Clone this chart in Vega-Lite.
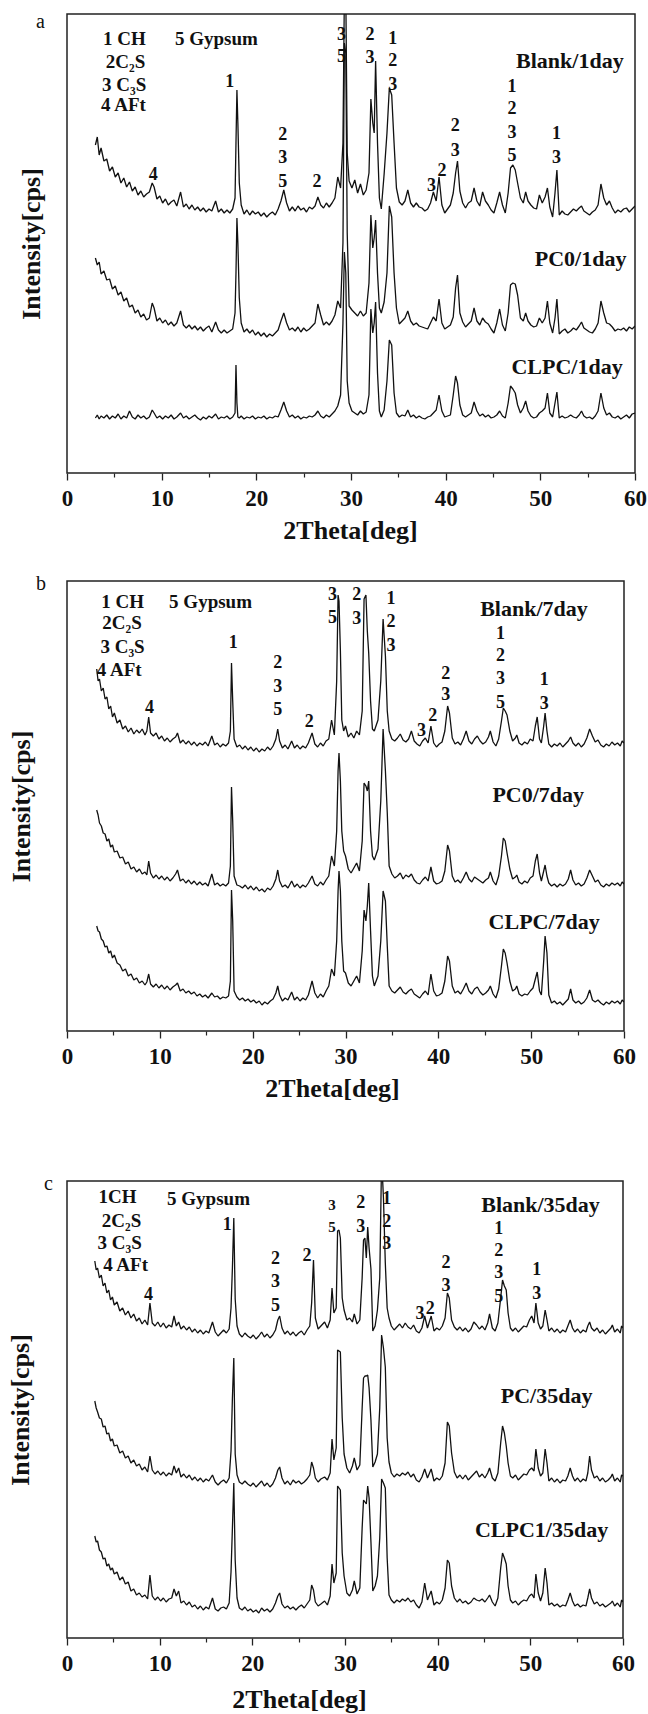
{
"$schema": "https://vega.github.io/schema/vega-lite/v6.json",
"padding": {"left": 6, "top": 11, "right": 4, "bottom": 0},
"spacing": 29,
"datasets": {
"a": [
{"x":3.0,"B":328,"P":215,"C":55},{"x":3.2,"B":336,"P":208,"C":58},{"x":3.4,"B":318,"P":211,"C":54},{"x":3.6,"B":325,"P":199,"C":57},{"x":3.9,"B":312,"P":202,"C":55},{"x":4.2,"B":314,"P":193,"C":58},{"x":4.5,"B":302,"P":194,"C":54},{"x":4.8,"B":306,"P":184,"C":57},{"x":5.1,"B":296,"P":187,"C":55},{"x":5.4,"B":300,"P":178,"C":59},{"x":5.7,"B":290,"P":181,"C":54},{"x":6.0,"B":295,"P":172,"C":57},{"x":6.3,"B":286,"P":175,"C":55},{"x":6.6,"B":291,"P":166,"C":62},{"x":6.9,"B":282,"P":168,"C":56},{"x":7.2,"B":286,"P":160,"C":54},{"x":7.5,"B":278,"P":163,"C":58},{"x":7.8,"B":282,"P":156,"C":55},{"x":8.1,"B":276,"P":159,"C":57},{"x":8.4,"B":279,"P":153,"C":54},{"x":8.7,"B":281,"P":155,"C":56},{"x":9.0,"B":290,"P":170,"C":63},{"x":9.2,"B":286,"P":165,"C":60},{"x":9.5,"B":274,"P":152,"C":55},{"x":9.8,"B":277,"P":155,"C":57},{"x":10.1,"B":270,"P":150,"C":54},{"x":10.4,"B":274,"P":153,"C":57},{"x":10.7,"B":268,"P":148,"C":55},{"x":11.0,"B":271,"P":151,"C":58},{"x":11.3,"B":273,"P":147,"C":54},{"x":11.6,"B":267,"P":150,"C":56},{"x":12.0,"B":281,"P":162,"C":60},{"x":12.3,"B":266,"P":148,"C":55},{"x":12.6,"B":269,"P":145,"C":57},{"x":12.9,"B":264,"P":148,"C":54},{"x":13.2,"B":268,"P":144,"C":56},{"x":13.5,"B":263,"P":147,"C":58},{"x":13.8,"B":266,"P":143,"C":55},{"x":14.1,"B":262,"P":146,"C":53},{"x":14.4,"B":265,"P":142,"C":56},{"x":14.7,"B":261,"P":145,"C":54},{"x":15.0,"B":264,"P":147,"C":57},{"x":15.3,"B":262,"P":141,"C":55},{"x":15.7,"B":272,"P":151,"C":59},{"x":16.0,"B":261,"P":143,"C":54},{"x":16.3,"B":264,"P":140,"C":56},{"x":16.6,"B":260,"P":143,"C":55},{"x":16.9,"B":263,"P":140,"C":57},{"x":17.2,"B":260,"P":142,"C":54},{"x":17.5,"B":264,"P":144,"C":56},{"x":17.75,"B":275,"P":160,"C":60},{"x":17.85,"B":330,"P":200,"C":108},{"x":17.95,"B":383,"P":255,"C":70},{"x":18.05,"B":350,"P":230,"C":56},{"x":18.2,"B":290,"P":175,"C":55},{"x":18.4,"B":268,"P":150,"C":57},{"x":18.7,"B":259,"P":141,"C":54},{"x":19.0,"B":263,"P":144,"C":56},{"x":19.3,"B":258,"P":140,"C":55},{"x":19.6,"B":262,"P":143,"C":57},{"x":19.9,"B":259,"P":138,"C":54},{"x":20.2,"B":261,"P":141,"C":56},{"x":20.5,"B":257,"P":137,"C":55},{"x":20.8,"B":260,"P":140,"C":57},{"x":21.1,"B":256,"P":136,"C":54},{"x":21.4,"B":259,"P":139,"C":56},{"x":21.7,"B":261,"P":137,"C":55},{"x":22.0,"B":258,"P":140,"C":57},{"x":22.3,"B":264,"P":143,"C":56},{"x":22.6,"B":272,"P":152,"C":63},{"x":22.9,"B":283,"P":160,"C":71},{"x":23.2,"B":270,"P":150,"C":62},{"x":23.5,"B":262,"P":143,"C":56},{"x":23.8,"B":266,"P":145,"C":58},{"x":24.1,"B":262,"P":142,"C":55},{"x":24.4,"B":267,"P":146,"C":57},{"x":24.7,"B":263,"P":141,"C":54},{"x":25.0,"B":265,"P":145,"C":56},{"x":25.3,"B":261,"P":142,"C":55},{"x":25.6,"B":266,"P":144,"C":57},{"x":25.9,"B":264,"P":147,"C":56},{"x":26.2,"B":267,"P":150,"C":58},{"x":26.5,"B":276,"P":169,"C":62},{"x":26.8,"B":268,"P":158,"C":57},{"x":27.1,"B":265,"P":148,"C":55},{"x":27.4,"B":270,"P":151,"C":58},{"x":27.7,"B":266,"P":148,"C":56},{"x":28.0,"B":270,"P":152,"C":59},{"x":28.3,"B":275,"P":158,"C":62},{"x":28.6,"B":296,"P":172,"C":67},{"x":28.9,"B":285,"P":165,"C":78},{"x":29.15,"B":330,"P":230,"C":150},{"x":29.3,"B":480,"P":430,"C":221},{"x":29.45,"B":480,"P":420,"C":200},{"x":29.6,"B":320,"P":240,"C":92},{"x":29.8,"B":292,"P":167,"C":70},{"x":30.1,"B":285,"P":163,"C":62},{"x":30.4,"B":293,"P":160,"C":60},{"x":30.7,"B":280,"P":157,"C":58},{"x":31.0,"B":289,"P":162,"C":62},{"x":31.3,"B":278,"P":157,"C":59},{"x":31.6,"B":283,"P":160,"C":61},{"x":31.9,"B":300,"P":190,"C":78},{"x":32.1,"B":374,"P":258,"C":164},{"x":32.3,"B":350,"P":225,"C":140},{"x":32.45,"B":340,"P":235,"C":150},{"x":32.6,"B":412,"P":253,"C":171},{"x":32.8,"B":330,"P":200,"C":100},{"x":33.0,"B":275,"P":165,"C":62},{"x":33.2,"B":264,"P":160,"C":56},{"x":33.5,"B":299,"P":171,"C":63},{"x":33.8,"B":340,"P":200,"C":92},{"x":34.05,"B":385,"P":267,"C":133},{"x":34.3,"B":378,"P":256,"C":128},{"x":34.55,"B":330,"P":200,"C":80},{"x":34.8,"B":285,"P":165,"C":60},{"x":35.1,"B":271,"P":149,"C":56},{"x":35.4,"B":268,"P":152,"C":58},{"x":35.7,"B":272,"P":155,"C":57},{"x":36.0,"B":283,"P":162,"C":63},{"x":36.3,"B":270,"P":152,"C":56},{"x":36.6,"B":266,"P":148,"C":58},{"x":36.9,"B":270,"P":150,"C":55},{"x":37.2,"B":266,"P":147,"C":57},{"x":37.5,"B":265,"P":146,"C":55},{"x":37.8,"B":262,"P":145,"C":54},{"x":38.1,"B":264,"P":144,"C":56},{"x":38.4,"B":270,"P":150,"C":57},{"x":38.7,"B":281,"P":156,"C":60},{"x":39.0,"B":272,"P":152,"C":63},{"x":39.3,"B":296,"P":174,"C":78},{"x":39.6,"B":268,"P":150,"C":62},{"x":39.9,"B":260,"P":144,"C":56},{"x":40.2,"B":264,"P":146,"C":57},{"x":40.5,"B":268,"P":148,"C":58},{"x":40.8,"B":280,"P":156,"C":78},{"x":41.05,"B":300,"P":185,"C":97},{"x":41.25,"B":312,"P":198,"C":90},{"x":41.5,"B":282,"P":160,"C":68},{"x":41.8,"B":270,"P":151,"C":58},{"x":42.1,"B":265,"P":146,"C":56},{"x":42.4,"B":270,"P":149,"C":58},{"x":42.7,"B":272,"P":152,"C":60},{"x":43.0,"B":285,"P":165,"C":71},{"x":43.3,"B":272,"P":152,"C":62},{"x":43.6,"B":267,"P":148,"C":57},{"x":43.9,"B":281,"P":155,"C":59},{"x":44.2,"B":272,"P":151,"C":56},{"x":44.5,"B":268,"P":149,"C":58},{"x":44.8,"B":263,"P":144,"C":55},{"x":45.1,"B":260,"P":140,"C":56},{"x":45.4,"B":270,"P":150,"C":58},{"x":45.7,"B":281,"P":164,"C":62},{"x":46.0,"B":268,"P":148,"C":57},{"x":46.3,"B":260,"P":142,"C":55},{"x":46.6,"B":280,"P":160,"C":70},{"x":46.85,"B":305,"P":188,"C":87},{"x":47.1,"B":308,"P":190,"C":84},{"x":47.35,"B":303,"P":189,"C":80},{"x":47.6,"B":290,"P":178,"C":68},{"x":47.9,"B":275,"P":155,"C":60},{"x":48.2,"B":270,"P":152,"C":65},{"x":48.45,"B":281,"P":160,"C":72},{"x":48.7,"B":272,"P":152,"C":62},{"x":49.0,"B":268,"P":148,"C":57},{"x":49.3,"B":265,"P":146,"C":55},{"x":49.6,"B":264,"P":147,"C":56},{"x":49.9,"B":278,"P":155,"C":60},{"x":50.2,"B":270,"P":150,"C":62},{"x":50.5,"B":276,"P":155,"C":65},{"x":50.75,"B":285,"P":172,"C":80},{"x":51.0,"B":266,"P":150,"C":60},{"x":51.3,"B":256,"P":140,"C":56},{"x":51.55,"B":280,"P":155,"C":70},{"x":51.75,"B":303,"P":174,"C":81},{"x":52.0,"B":258,"P":139,"C":55},{"x":52.3,"B":262,"P":142,"C":57},{"x":52.6,"B":259,"P":144,"C":55},{"x":52.9,"B":258,"P":140,"C":56},{"x":53.2,"B":261,"P":142,"C":58},{"x":53.5,"B":264,"P":145,"C":56},{"x":53.8,"B":262,"P":143,"C":55},{"x":54.1,"B":265,"P":147,"C":58},{"x":54.35,"B":267,"P":151,"C":62},{"x":54.6,"B":262,"P":145,"C":57},{"x":54.9,"B":260,"P":143,"C":55},{"x":55.2,"B":258,"P":141,"C":56},{"x":55.5,"B":261,"P":140,"C":54},{"x":55.8,"B":263,"P":144,"C":57},{"x":56.1,"B":268,"P":150,"C":62},{"x":56.4,"B":289,"P":172,"C":80},{"x":56.7,"B":275,"P":160,"C":65},{"x":57.0,"B":268,"P":150,"C":58},{"x":57.3,"B":272,"P":149,"C":60},{"x":57.6,"B":265,"P":146,"C":56},{"x":57.9,"B":260,"P":142,"C":55},{"x":58.2,"B":263,"P":144,"C":57},{"x":58.5,"B":261,"P":143,"C":54},{"x":58.8,"B":264,"P":145,"C":56},{"x":59.1,"B":265,"P":142,"C":58},{"x":59.4,"B":261,"P":146,"C":55},{"x":59.7,"B":264,"P":144,"C":59},{"x":60.0,"B":267,"P":147,"C":60}
],
"b": [
{"x":3.2,"B":362,"P":221,"C":105},{"x":3.35,"B":350,"P":216,"C":100},{"x":3.5,"B":352,"P":208,"C":99},{"x":3.7,"B":340,"P":205,"C":92},{"x":3.9,"B":343,"P":198,"C":90},{"x":4.1,"B":332,"P":197,"C":84},{"x":4.3,"B":334,"P":190,"C":85},{"x":4.5,"B":322,"P":192,"C":78},{"x":4.7,"B":325,"P":184,"C":80},{"x":4.9,"B":314,"P":186,"C":73},{"x":5.1,"B":318,"P":179,"C":76},{"x":5.4,"B":308,"P":180,"C":68},{"x":5.7,"B":311,"P":173,"C":66},{"x":6.0,"B":302,"P":174,"C":60},{"x":6.3,"B":305,"P":167,"C":62},{"x":6.6,"B":299,"P":169,"C":55},{"x":6.9,"B":303,"P":162,"C":57},{"x":7.2,"B":297,"P":164,"C":51},{"x":7.5,"B":301,"P":159,"C":53},{"x":7.8,"B":298,"P":162,"C":48},{"x":8.1,"B":302,"P":157,"C":50},{"x":8.4,"B":296,"P":159,"C":46},{"x":8.6,"B":300,"P":156,"C":49},{"x":8.8,"B":314,"P":170,"C":57},{"x":9.0,"B":298,"P":158,"C":47},{"x":9.3,"B":295,"P":153,"C":44},{"x":9.6,"B":298,"P":156,"C":47},{"x":9.9,"B":292,"P":152,"C":43},{"x":10.2,"B":295,"P":155,"C":46},{"x":10.5,"B":290,"P":151,"C":42},{"x":10.8,"B":293,"P":154,"C":45},{"x":11.1,"B":289,"P":150,"C":41},{"x":11.4,"B":292,"P":153,"C":44},{"x":11.7,"B":294,"P":157,"C":46},{"x":11.9,"B":298,"P":161,"C":48},{"x":12.2,"B":288,"P":150,"C":40},{"x":12.5,"B":291,"P":152,"C":42},{"x":12.8,"B":287,"P":148,"C":38},{"x":13.1,"B":290,"P":151,"C":40},{"x":13.4,"B":286,"P":147,"C":37},{"x":13.7,"B":289,"P":150,"C":39},{"x":14.0,"B":285,"P":146,"C":35},{"x":14.3,"B":288,"P":149,"C":37},{"x":14.6,"B":286,"P":146,"C":34},{"x":14.9,"B":289,"P":148,"C":36},{"x":15.2,"B":285,"P":145,"C":33},{"x":15.6,"B":295,"P":157,"C":38},{"x":15.9,"B":286,"P":146,"C":34},{"x":16.2,"B":288,"P":148,"C":35},{"x":16.5,"B":284,"P":145,"C":32},{"x":16.8,"B":287,"P":147,"C":34},{"x":17.1,"B":285,"P":145,"C":33},{"x":17.4,"B":288,"P":148,"C":35},{"x":17.6,"B":300,"P":165,"C":50},{"x":17.72,"B":368,"P":244,"C":141},{"x":17.85,"B":330,"P":210,"C":110},{"x":18.0,"B":292,"P":155,"C":40},{"x":18.3,"B":284,"P":146,"C":34},{"x":18.6,"B":286,"P":145,"C":31},{"x":18.9,"B":282,"P":143,"C":33},{"x":19.2,"B":285,"P":146,"C":30},{"x":19.5,"B":281,"P":142,"C":32},{"x":19.8,"B":284,"P":145,"C":29},{"x":20.1,"B":280,"P":141,"C":31},{"x":20.4,"B":283,"P":144,"C":28},{"x":20.7,"B":279,"P":140,"C":30},{"x":21.0,"B":282,"P":142,"C":26},{"x":21.3,"B":280,"P":139,"C":29},{"x":21.6,"B":284,"P":143,"C":27},{"x":21.9,"B":281,"P":141,"C":30},{"x":22.2,"B":285,"P":145,"C":32},{"x":22.5,"B":292,"P":152,"C":38},{"x":22.7,"B":302,"P":161,"C":45},{"x":22.9,"B":290,"P":150,"C":36},{"x":23.2,"B":283,"P":144,"C":30},{"x":23.5,"B":286,"P":146,"C":33},{"x":23.8,"B":282,"P":143,"C":31},{"x":24.2,"B":290,"P":150,"C":39},{"x":24.5,"B":283,"P":144,"C":31},{"x":24.8,"B":286,"P":147,"C":34},{"x":25.1,"B":282,"P":143,"C":30},{"x":25.4,"B":285,"P":146,"C":33},{"x":25.7,"B":283,"P":144,"C":31},{"x":26.0,"B":288,"P":148,"C":36},{"x":26.4,"B":298,"P":155,"C":50},{"x":26.7,"B":287,"P":147,"C":38},{"x":27.0,"B":284,"P":145,"C":33},{"x":27.3,"B":288,"P":149,"C":37},{"x":27.6,"B":285,"P":146,"C":34},{"x":27.9,"B":290,"P":151,"C":40},{"x":28.2,"B":292,"P":155,"C":45},{"x":28.5,"B":311,"P":175,"C":62},{"x":28.8,"B":296,"P":165,"C":55},{"x":29.05,"B":350,"P":200,"C":90},{"x":29.2,"B":436,"P":260,"C":140},{"x":29.3,"B":430,"P":278,"C":160},{"x":29.45,"B":380,"P":250,"C":140},{"x":29.6,"B":311,"P":200,"C":90},{"x":29.8,"B":300,"P":180,"C":60},{"x":30.0,"B":305,"P":175,"C":58},{"x":30.3,"B":294,"P":162,"C":48},{"x":30.6,"B":298,"P":158,"C":45},{"x":30.9,"B":293,"P":163,"C":50},{"x":31.2,"B":300,"P":168,"C":55},{"x":31.5,"B":296,"P":160,"C":48},{"x":31.8,"B":320,"P":190,"C":80},{"x":32.0,"B":432,"P":248,"C":121},{"x":32.2,"B":436,"P":245,"C":110},{"x":32.35,"B":400,"P":240,"C":125},{"x":32.5,"B":378,"P":250,"C":148},{"x":32.7,"B":330,"P":200,"C":100},{"x":32.9,"B":302,"P":175,"C":55},{"x":33.1,"B":300,"P":171,"C":45},{"x":33.5,"B":311,"P":182,"C":55},{"x":33.8,"B":350,"P":230,"C":90},{"x":34.05,"B":412,"P":302,"C":140},{"x":34.3,"B":375,"P":260,"C":130},{"x":34.5,"B":320,"P":218,"C":85},{"x":34.7,"B":300,"P":165,"C":45},{"x":35.0,"B":292,"P":157,"C":40},{"x":35.3,"B":290,"P":153,"C":38},{"x":35.6,"B":293,"P":155,"C":41},{"x":35.9,"B":297,"P":158,"C":44},{"x":36.2,"B":291,"P":152,"C":39},{"x":36.5,"B":289,"P":156,"C":37},{"x":36.8,"B":292,"P":154,"C":40},{"x":37.1,"B":300,"P":157,"C":42},{"x":37.4,"B":290,"P":151,"C":37},{"x":37.7,"B":287,"P":148,"C":35},{"x":38.0,"B":285,"P":147,"C":33},{"x":38.3,"B":290,"P":151,"C":37},{"x":38.6,"B":293,"P":154,"C":40},{"x":38.9,"B":288,"P":150,"C":36},{"x":39.2,"B":305,"P":164,"C":57},{"x":39.5,"B":288,"P":150,"C":40},{"x":39.8,"B":284,"P":147,"C":35},{"x":40.1,"B":287,"P":148,"C":36},{"x":40.4,"B":289,"P":150,"C":38},{"x":40.7,"B":300,"P":160,"C":50},{"x":41.0,"B":325,"P":186,"C":75},{"x":41.2,"B":318,"P":180,"C":70},{"x":41.5,"B":293,"P":155,"C":45},{"x":41.8,"B":287,"P":149,"C":38},{"x":42.1,"B":289,"P":151,"C":40},{"x":42.4,"B":286,"P":148,"C":37},{"x":42.7,"B":292,"P":153,"C":42},{"x":43.0,"B":300,"P":159,"C":48},{"x":43.3,"B":290,"P":152,"C":40},{"x":43.6,"B":287,"P":149,"C":37},{"x":43.9,"B":292,"P":154,"C":42},{"x":44.2,"B":295,"P":152,"C":44},{"x":44.5,"B":290,"P":150,"C":39},{"x":44.8,"B":287,"P":148,"C":36},{"x":45.1,"B":289,"P":151,"C":38},{"x":45.4,"B":294,"P":153,"C":41},{"x":45.6,"B":300,"P":159,"C":45},{"x":45.9,"B":289,"P":150,"C":37},{"x":46.2,"B":285,"P":146,"C":33},{"x":46.5,"B":292,"P":155,"C":42},{"x":46.8,"B":310,"P":175,"C":65},{"x":47.0,"B":323,"P":193,"C":82},{"x":47.2,"B":320,"P":190,"C":78},{"x":47.4,"B":316,"P":178,"C":68},{"x":47.7,"B":300,"P":162,"C":50},{"x":48.0,"B":290,"P":152,"C":40},{"x":48.3,"B":293,"P":154,"C":42},{"x":48.45,"B":296,"P":156,"C":45},{"x":48.7,"B":288,"P":149,"C":37},{"x":49.0,"B":286,"P":147,"C":35},{"x":49.3,"B":289,"P":150,"C":37},{"x":49.6,"B":287,"P":148,"C":36},{"x":49.9,"B":292,"P":153,"C":40},{"x":50.2,"B":290,"P":155,"C":43},{"x":50.45,"B":305,"P":170,"C":52},{"x":50.65,"B":314,"P":177,"C":59},{"x":50.9,"B":292,"P":158,"C":40},{"x":51.1,"B":288,"P":150,"C":36},{"x":51.35,"B":305,"P":160,"C":70},{"x":51.5,"B":318,"P":166,"C":95},{"x":51.7,"B":300,"P":155,"C":78},{"x":51.9,"B":287,"P":148,"C":36},{"x":52.2,"B":284,"P":145,"C":28},{"x":52.5,"B":287,"P":147,"C":30},{"x":52.8,"B":285,"P":144,"C":27},{"x":53.1,"B":288,"P":147,"C":29},{"x":53.4,"B":284,"P":145,"C":26},{"x":53.7,"B":287,"P":147,"C":29},{"x":54.0,"B":290,"P":152,"C":32},{"x":54.25,"B":294,"P":161,"C":42},{"x":54.5,"B":288,"P":151,"C":31},{"x":54.8,"B":285,"P":146,"C":28},{"x":55.1,"B":288,"P":148,"C":30},{"x":55.4,"B":284,"P":145,"C":27},{"x":55.7,"B":287,"P":147,"C":29},{"x":56.0,"B":293,"P":153,"C":33},{"x":56.3,"B":302,"P":161,"C":41},{"x":56.6,"B":295,"P":155,"C":31},{"x":56.9,"B":289,"P":149,"C":29},{"x":57.2,"B":291,"P":151,"C":31},{"x":57.5,"B":286,"P":146,"C":28},{"x":57.8,"B":284,"P":144,"C":26},{"x":58.1,"B":287,"P":147,"C":29},{"x":58.4,"B":285,"P":145,"C":27},{"x":58.7,"B":289,"P":148,"C":30},{"x":59.0,"B":286,"P":146,"C":28},{"x":59.3,"B":288,"P":148,"C":30},{"x":59.6,"B":285,"P":145,"C":27},{"x":59.8,"B":290,"P":149,"C":31},{"x":60.0,"B":288,"P":147,"C":29}
],
"c": [
{"x":3.0,"B":377,"P":237,"C":102},{"x":3.15,"B":368,"P":230,"C":96},{"x":3.3,"B":370,"P":226,"C":97},{"x":3.5,"B":360,"P":220,"C":88},{"x":3.7,"B":363,"P":219,"C":86},{"x":3.9,"B":352,"P":211,"C":79},{"x":4.1,"B":355,"P":212,"C":80},{"x":4.3,"B":345,"P":204,"C":72},{"x":4.5,"B":348,"P":205,"C":74},{"x":4.7,"B":338,"P":197,"C":68},{"x":4.9,"B":341,"P":199,"C":70},{"x":5.1,"B":333,"P":192,"C":64},{"x":5.4,"B":336,"P":193,"C":66},{"x":5.7,"B":327,"P":185,"C":58},{"x":6.0,"B":330,"P":187,"C":61},{"x":6.3,"B":323,"P":180,"C":54},{"x":6.6,"B":327,"P":182,"C":56},{"x":6.9,"B":320,"P":175,"C":47},{"x":7.2,"B":324,"P":178,"C":49},{"x":7.5,"B":317,"P":172,"C":43},{"x":7.8,"B":320,"P":174,"C":45},{"x":8.1,"B":314,"P":168,"C":41},{"x":8.4,"B":318,"P":171,"C":43},{"x":8.7,"B":313,"P":166,"C":39},{"x":8.95,"B":335,"P":182,"C":63},{"x":9.2,"B":315,"P":168,"C":42},{"x":9.5,"B":312,"P":164,"C":38},{"x":9.8,"B":316,"P":167,"C":41},{"x":10.1,"B":311,"P":163,"C":37},{"x":10.4,"B":315,"P":166,"C":40},{"x":10.7,"B":310,"P":162,"C":36},{"x":11.0,"B":313,"P":165,"C":39},{"x":11.3,"B":311,"P":163,"C":40},{"x":11.55,"B":322,"P":172,"C":49},{"x":11.8,"B":312,"P":165,"C":42},{"x":12.05,"B":316,"P":170,"C":47},{"x":12.3,"B":309,"P":161,"C":35},{"x":12.6,"B":312,"P":164,"C":37},{"x":12.9,"B":308,"P":160,"C":33},{"x":13.2,"B":311,"P":163,"C":36},{"x":13.5,"B":306,"P":158,"C":31},{"x":13.8,"B":309,"P":161,"C":33},{"x":14.1,"B":305,"P":157,"C":29},{"x":14.4,"B":308,"P":160,"C":32},{"x":14.7,"B":304,"P":156,"C":28},{"x":15.0,"B":307,"P":159,"C":31},{"x":15.3,"B":305,"P":157,"C":29},{"x":15.7,"B":316,"P":163,"C":40},{"x":16.0,"B":306,"P":156,"C":29},{"x":16.3,"B":302,"P":153,"C":27},{"x":16.6,"B":305,"P":156,"C":30},{"x":16.9,"B":308,"P":158,"C":31},{"x":17.2,"B":305,"P":155,"C":29},{"x":17.5,"B":309,"P":160,"C":35},{"x":17.7,"B":330,"P":187,"C":66},{"x":17.85,"B":370,"P":240,"C":110},{"x":18.0,"B":420,"P":280,"C":155},{"x":18.15,"B":339,"P":184,"C":78},{"x":18.35,"B":312,"P":163,"C":40},{"x":18.6,"B":304,"P":156,"C":30},{"x":18.9,"B":301,"P":154,"C":28},{"x":19.2,"B":305,"P":157,"C":31},{"x":19.5,"B":302,"P":154,"C":27},{"x":19.8,"B":300,"P":152,"C":29},{"x":20.1,"B":303,"P":155,"C":26},{"x":20.4,"B":299,"P":151,"C":28},{"x":20.7,"B":302,"P":154,"C":25},{"x":21.0,"B":306,"P":157,"C":30},{"x":21.3,"B":301,"P":152,"C":27},{"x":21.6,"B":304,"P":155,"C":29},{"x":21.9,"B":300,"P":151,"C":26},{"x":22.2,"B":303,"P":154,"C":29},{"x":22.5,"B":308,"P":160,"C":35},{"x":22.75,"B":318,"P":168,"C":42},{"x":22.95,"B":322,"P":171,"C":45},{"x":23.2,"B":310,"P":160,"C":34},{"x":23.5,"B":304,"P":154,"C":30},{"x":23.8,"B":307,"P":157,"C":32},{"x":24.1,"B":303,"P":153,"C":29},{"x":24.4,"B":306,"P":158,"C":31},{"x":24.7,"B":302,"P":155,"C":28},{"x":25.0,"B":305,"P":157,"C":31},{"x":25.3,"B":307,"P":154,"C":33},{"x":25.6,"B":303,"P":156,"C":30},{"x":25.9,"B":308,"P":159,"C":34},{"x":26.2,"B":312,"P":163,"C":38},{"x":26.4,"B":335,"P":176,"C":53},{"x":26.6,"B":378,"P":170,"C":48},{"x":26.8,"B":320,"P":160,"C":36},{"x":27.1,"B":309,"P":156,"C":32},{"x":27.4,"B":312,"P":159,"C":34},{"x":27.8,"B":316,"P":161,"C":37},{"x":28.1,"B":310,"P":158,"C":33},{"x":28.4,"B":318,"P":165,"C":42},{"x":28.6,"B":350,"P":199,"C":74},{"x":28.8,"B":325,"P":178,"C":55},{"x":29.05,"B":330,"P":190,"C":65},{"x":29.2,"B":407,"P":288,"C":152},{"x":29.35,"B":408,"P":287,"C":150},{"x":29.5,"B":400,"P":286,"C":148},{"x":29.7,"B":340,"P":220,"C":85},{"x":29.9,"B":328,"P":184,"C":62},{"x":30.2,"B":318,"P":170,"C":45},{"x":30.5,"B":320,"P":165,"C":42},{"x":30.8,"B":316,"P":172,"C":48},{"x":31.0,"B":324,"P":180,"C":57},{"x":31.3,"B":314,"P":168,"C":44},{"x":31.6,"B":318,"P":173,"C":50},{"x":31.85,"B":360,"P":230,"C":110},{"x":32.0,"B":398,"P":260,"C":138},{"x":32.15,"B":400,"P":262,"C":136},{"x":32.3,"B":380,"P":262,"C":134},{"x":32.45,"B":411,"P":263,"C":152},{"x":32.6,"B":390,"P":250,"C":140},{"x":32.8,"B":369,"P":218,"C":96},{"x":33.0,"B":307,"P":171,"C":47},{"x":33.25,"B":312,"P":176,"C":52},{"x":33.5,"B":328,"P":184,"C":62},{"x":33.75,"B":360,"P":230,"C":100},{"x":33.95,"B":480,"P":303,"C":159},{"x":34.15,"B":440,"P":290,"C":155},{"x":34.35,"B":375,"P":271,"C":150},{"x":34.55,"B":330,"P":200,"C":80},{"x":34.75,"B":320,"P":176,"C":43},{"x":35.0,"B":312,"P":165,"C":38},{"x":35.3,"B":308,"P":161,"C":35},{"x":35.6,"B":311,"P":164,"C":38},{"x":35.9,"B":314,"P":162,"C":36},{"x":36.2,"B":310,"P":165,"C":39},{"x":36.5,"B":315,"P":163,"C":37},{"x":36.8,"B":311,"P":166,"C":40},{"x":37.1,"B":309,"P":161,"C":36},{"x":37.4,"B":313,"P":164,"C":38},{"x":37.7,"B":307,"P":158,"C":33},{"x":38.0,"B":305,"P":156,"C":30},{"x":38.3,"B":310,"P":161,"C":36},{"x":38.6,"B":322,"P":169,"C":55},{"x":38.9,"B":310,"P":160,"C":38},{"x":39.3,"B":322,"P":169,"C":47},{"x":39.6,"B":307,"P":157,"C":33},{"x":39.9,"B":310,"P":160,"C":36},{"x":40.2,"B":308,"P":158,"C":34},{"x":40.5,"B":312,"P":162,"C":38},{"x":40.8,"B":320,"P":175,"C":50},{"x":41.05,"B":345,"P":216,"C":78},{"x":41.25,"B":340,"P":212,"C":75},{"x":41.5,"B":318,"P":185,"C":52},{"x":41.8,"B":311,"P":166,"C":40},{"x":42.1,"B":308,"P":160,"C":36},{"x":42.4,"B":311,"P":163,"C":39},{"x":42.7,"B":307,"P":159,"C":35},{"x":43.0,"B":310,"P":163,"C":37},{"x":43.3,"B":306,"P":158,"C":34},{"x":43.6,"B":309,"P":161,"C":36},{"x":43.9,"B":316,"P":164,"C":40},{"x":44.2,"B":313,"P":167,"C":38},{"x":44.5,"B":309,"P":161,"C":37},{"x":44.8,"B":312,"P":164,"C":39},{"x":45.1,"B":308,"P":160,"C":36},{"x":45.4,"B":315,"P":165,"C":40},{"x":45.6,"B":324,"P":170,"C":43},{"x":45.9,"B":310,"P":160,"C":36},{"x":46.2,"B":307,"P":157,"C":32},{"x":46.5,"B":315,"P":165,"C":40},{"x":46.8,"B":340,"P":195,"C":70},{"x":47.0,"B":358,"P":212,"C":85},{"x":47.2,"B":352,"P":205,"C":80},{"x":47.4,"B":348,"P":192,"C":74},{"x":47.6,"B":325,"P":175,"C":52},{"x":47.85,"B":310,"P":162,"C":38},{"x":48.1,"B":307,"P":160,"C":35},{"x":48.4,"B":310,"P":163,"C":37},{"x":48.7,"B":306,"P":158,"C":33},{"x":49.0,"B":309,"P":161,"C":36},{"x":49.3,"B":312,"P":164,"C":38},{"x":49.6,"B":311,"P":163,"C":37},{"x":49.9,"B":318,"P":168,"C":42},{"x":50.15,"B":322,"P":170,"C":44},{"x":50.4,"B":315,"P":167,"C":40},{"x":50.6,"B":335,"P":189,"C":64},{"x":50.85,"B":315,"P":170,"C":45},{"x":51.1,"B":309,"P":162,"C":37},{"x":51.35,"B":312,"P":165,"C":45},{"x":51.6,"B":328,"P":189,"C":70},{"x":51.8,"B":318,"P":175,"C":55},{"x":52.0,"B":307,"P":157,"C":33},{"x":52.3,"B":310,"P":160,"C":35},{"x":52.6,"B":306,"P":156,"C":32},{"x":52.9,"B":309,"P":159,"C":34},{"x":53.2,"B":305,"P":155,"C":31},{"x":53.5,"B":308,"P":158,"C":33},{"x":53.8,"B":306,"P":157,"C":32},{"x":54.05,"B":312,"P":162,"C":38},{"x":54.3,"B":318,"P":170,"C":45},{"x":54.55,"B":310,"P":162,"C":37},{"x":54.8,"B":306,"P":157,"C":32},{"x":55.1,"B":309,"P":160,"C":34},{"x":55.4,"B":305,"P":156,"C":31},{"x":55.7,"B":308,"P":159,"C":33},{"x":56.0,"B":306,"P":157,"C":32},{"x":56.2,"B":312,"P":165,"C":40},{"x":56.4,"B":316,"P":182,"C":49},{"x":56.6,"B":310,"P":168,"C":40},{"x":56.9,"B":307,"P":160,"C":34},{"x":57.2,"B":310,"P":162,"C":36},{"x":57.5,"B":305,"P":157,"C":32},{"x":57.8,"B":308,"P":160,"C":34},{"x":58.1,"B":304,"P":156,"C":31},{"x":58.4,"B":307,"P":158,"C":33},{"x":58.7,"B":310,"P":161,"C":35},{"x":58.85,"B":313,"P":164,"C":37},{"x":59.1,"B":306,"P":157,"C":32},{"x":59.4,"B":309,"P":160,"C":35},{"x":59.7,"B":305,"P":156,"C":31},{"x":59.85,"B":312,"P":163,"C":38},{"x":60.0,"B":310,"P":162,"C":36}
],
"lab": [
{"p":"a","k":"n","x":17.2,"y":391,"t":"1"},{"p":"a","k":"n","x":22.8,"y":338,"t":"2"},{"p":"a","k":"n","x":22.8,"y":315,"t":"3"},{"p":"a","k":"n","x":22.8,"y":291,"t":"5"},{"p":"a","k":"n","x":26.4,"y":291,"t":"2"},{"p":"a","k":"n","x":9.1,"y":298,"t":"4"},{"p":"a","k":"n","x":29.0,"y":438,"t":"3"},{"p":"a","k":"n","x":29.0,"y":416,"t":"5"},{"p":"a","k":"n","x":32.0,"y":438,"t":"2"},{"p":"a","k":"n","x":32.0,"y":415,"t":"3"},{"p":"a","k":"n","x":34.4,"y":434,"t":"1"},{"p":"a","k":"n","x":34.4,"y":412,"t":"2"},{"p":"a","k":"n","x":34.4,"y":388,"t":"3"},{"p":"a","k":"n","x":38.5,"y":287,"t":"3"},{"p":"a","k":"n","x":39.6,"y":302,"t":"2"},{"p":"a","k":"n","x":41.0,"y":347,"t":"2"},{"p":"a","k":"n","x":41.0,"y":322,"t":"3"},{"p":"a","k":"n","x":47.0,"y":386,"t":"1"},{"p":"a","k":"n","x":47.0,"y":364,"t":"2"},{"p":"a","k":"n","x":47.0,"y":340,"t":"3"},{"p":"a","k":"n","x":47.0,"y":317,"t":"5"},{"p":"a","k":"n","x":51.7,"y":339,"t":"1"},{"p":"a","k":"n","x":51.7,"y":315,"t":"3"},
{"p":"a","k":"g","x":3.8,"y":434,"t":"1 CH"},{"p":"a","k":"g","x":11.4,"y":434,"t":"5 Gypsum"},{"p":"a","k":"g","x":4.1,"y":411,"t":"2C₂S"},{"p":"a","k":"g","x":3.7,"y":388,"t":"3 C₃S"},{"p":"a","k":"g","x":3.6,"y":368,"t":"4 AFt"},
{"p":"a","k":"s","x":58.8,"y":412,"t":"Blank/1day"},{"p":"a","k":"s","x":59.1,"y":214,"t":"PC0/1day"},{"p":"a","k":"s","x":58.7,"y":106,"t":"CLPC/1day"},
{"p":"a","k":"l","x":-2.8,"y":451,"t":"a"},
{"p":"b","k":"n","x":17.9,"y":388,"t":"1"},{"p":"b","k":"n","x":22.7,"y":368,"t":"2"},{"p":"b","k":"n","x":22.7,"y":344,"t":"3"},{"p":"b","k":"n","x":22.7,"y":321,"t":"5"},{"p":"b","k":"n","x":26.1,"y":309,"t":"2"},{"p":"b","k":"n","x":8.9,"y":323,"t":"4"},{"p":"b","k":"n","x":28.6,"y":436,"t":"3"},{"p":"b","k":"n","x":28.6,"y":413,"t":"5"},{"p":"b","k":"n","x":31.2,"y":436,"t":"2"},{"p":"b","k":"n","x":31.2,"y":412,"t":"3"},{"p":"b","k":"n","x":34.9,"y":432,"t":"1"},{"p":"b","k":"n","x":34.9,"y":409,"t":"2"},{"p":"b","k":"n","x":34.9,"y":385,"t":"3"},{"p":"b","k":"n","x":38.2,"y":300,"t":"3"},{"p":"b","k":"n","x":39.4,"y":315,"t":"2"},{"p":"b","k":"n","x":40.8,"y":357,"t":"2"},{"p":"b","k":"n","x":40.8,"y":336,"t":"3"},{"p":"b","k":"n","x":46.7,"y":397,"t":"1"},{"p":"b","k":"n","x":46.7,"y":375,"t":"2"},{"p":"b","k":"n","x":46.7,"y":352,"t":"3"},{"p":"b","k":"n","x":46.7,"y":328,"t":"5"},{"p":"b","k":"n","x":51.4,"y":351,"t":"1"},{"p":"b","k":"n","x":51.4,"y":327,"t":"3"},
{"p":"b","k":"g","x":3.7,"y":429,"t":"1 CH"},{"p":"b","k":"g","x":11.0,"y":429,"t":"5 Gypsum"},{"p":"b","k":"g","x":3.8,"y":408,"t":"2C₂S"},{"p":"b","k":"g","x":3.6,"y":384,"t":"3 C₃S"},{"p":"b","k":"g","x":3.2,"y":361,"t":"4 AFt"},
{"p":"b","k":"s","x":56.1,"y":422,"t":"Blank/7day"},{"p":"b","k":"s","x":55.7,"y":236,"t":"PC0/7day"},{"p":"b","k":"s","x":57.4,"y":109,"t":"CLPC/7day"},
{"p":"b","k":"l","x":-2.8,"y":447,"t":"b"},
{"p":"c","k":"n","x":17.3,"y":413,"t":"1"},{"p":"c","k":"n","x":22.5,"y":379,"t":"2"},{"p":"c","k":"n","x":22.5,"y":356,"t":"3"},{"p":"c","k":"n","x":22.5,"y":332,"t":"5"},{"p":"c","k":"n","x":25.9,"y":382,"t":"2"},{"p":"c","k":"n","x":8.8,"y":343,"t":"4"},{"p":"c","k":"m","x":28.6,"y":433,"t":"3"},{"p":"c","k":"m","x":28.6,"y":411,"t":"5"},{"p":"c","k":"n","x":31.7,"y":435,"t":"2"},{"p":"c","k":"n","x":31.7,"y":411,"t":"3"},{"p":"c","k":"n","x":34.5,"y":439,"t":"1"},{"p":"c","k":"n","x":34.5,"y":416,"t":"2"},{"p":"c","k":"n","x":34.5,"y":394,"t":"3"},{"p":"c","k":"n","x":38.1,"y":324,"t":"3"},{"p":"c","k":"n","x":39.2,"y":329,"t":"2"},{"p":"c","k":"n","x":40.9,"y":375,"t":"2"},{"p":"c","k":"n","x":40.9,"y":352,"t":"3"},{"p":"c","k":"n","x":46.6,"y":409,"t":"1"},{"p":"c","k":"n","x":46.6,"y":387,"t":"2"},{"p":"c","k":"n","x":46.6,"y":365,"t":"3"},{"p":"c","k":"n","x":46.6,"y":341,"t":"5"},{"p":"c","k":"n","x":50.7,"y":368,"t":"1"},{"p":"c","k":"n","x":50.7,"y":344,"t":"3"},
{"p":"c","k":"g","x":3.4,"y":441,"t":"1CH"},{"p":"c","k":"g","x":10.8,"y":439,"t":"5 Gypsum"},{"p":"c","k":"g","x":3.75,"y":417,"t":"2C₂S"},{"p":"c","k":"g","x":3.3,"y":395,"t":"3 C₃S"},{"p":"c","k":"g","x":3.9,"y":373,"t":"4 AFt"},
{"p":"c","k":"s","x":57.5,"y":433,"t":"Blank/35day"},{"p":"c","k":"s","x":56.7,"y":242,"t":"PC/35day"},{"p":"c","k":"s","x":58.4,"y":108,"t":"CLPC1/35day"},
{"p":"c","k":"l","x":-2.0,"y":454,"t":"c"}
]
},
"vconcat": [
{
"width": 568, "height": 459,
"resolve": {"axis": {"x": "independent"}},
"layer": [
{"data": {"name": "a"}, "transform": [{"fold": ["B","P","C"], "as": ["s","v"]}],
 "mark": {"type": "line", "clip": true, "color": "#111", "strokeWidth": 1.3, "strokeJoin": "bevel"},
 "encoding": {
  "x": {"field": "x", "type": "quantitative", "scale": {"domain": [0,60], "nice": false, "zero": false},
        "axis": {"values": [0,10,20,30,40,50,60], "title": "2Theta[deg]", "tickSize": 7, "tickWidth": 1.3, "labelFontSize": 23, "labelPadding": 7, "labelFlush": false, "labelOverlap": false, "titleFontSize": 26, "titleX": 283, "titleY": 65, "titleAlign": "center", "titleBaseline": "alphabetic"}},
  "y": {"field": "v", "type": "quantitative", "scale": {"domain": [0,459], "nice": false},
        "axis": {"title": "Intensity[cps]", "labels": false, "ticks": false, "domain": false, "grid": false, "titleFontSize": 26, "titlePadding": 23}},
  "detail": {"field": "s"}
 }},
{"data": {"name": "lab"}, "transform": [{"filter": "datum.p=='a' && datum.k=='n'"}],
 "mark": {"type": "text", "fontSize": 18, "align": "center", "baseline": "middle"},
 "encoding": {
  "x": {"field": "x", "type": "quantitative", "scale": {"domain": [0,60], "nice": false, "zero": false},
        "axis": {"orient": "bottom", "values": [5,15,25,35,45,55], "labels": false, "tickSize": 4, "tickWidth": 1.2, "title": null}},
  "y": {"field": "y", "type": "quantitative", "scale": {"domain": [0,459], "nice": false}},
  "text": {"field": "t"}
 }},
{"data": {"name": "lab"}, "transform": [{"filter": "datum.p=='a' && datum.k=='g'"}],
 "mark": {"type": "text", "fontSize": 19, "align": "left", "baseline": "middle"},
 "encoding": {
  "x": {"field": "x", "type": "quantitative", "scale": {"domain": [0,60], "nice": false, "zero": false}, "axis": null},
  "y": {"field": "y", "type": "quantitative", "scale": {"domain": [0,459], "nice": false}},
  "text": {"field": "t"}
 }},
{"data": {"name": "lab"}, "transform": [{"filter": "datum.p=='a' && datum.k=='s'"}],
 "mark": {"type": "text", "fontSize": 22, "align": "right", "baseline": "middle"},
 "encoding": {
  "x": {"field": "x", "type": "quantitative", "scale": {"domain": [0,60], "nice": false, "zero": false}, "axis": null},
  "y": {"field": "y", "type": "quantitative", "scale": {"domain": [0,459], "nice": false}},
  "text": {"field": "t"}
 }},
{"data": {"name": "lab"}, "transform": [{"filter": "datum.p=='a' && datum.k=='l'"}],
 "mark": {"type": "text", "fontSize": 20, "fontWeight": "normal", "align": "center", "baseline": "middle"},
 "encoding": {
  "x": {"field": "x", "type": "quantitative", "scale": {"domain": [0,60], "nice": false, "zero": false}, "axis": null},
  "y": {"field": "y", "type": "quantitative", "scale": {"domain": [0,459], "nice": false}},
  "text": {"field": "t"}
 }}
]
},
{
"width": 557, "height": 450,
"resolve": {"axis": {"x": "independent"}},
"layer": [
{"data": {"name": "b"}, "transform": [{"fold": ["B","P","C"], "as": ["s","v"]}],
 "mark": {"type": "line", "clip": true, "color": "#111", "strokeWidth": 1.3, "strokeJoin": "bevel"},
 "encoding": {
  "x": {"field": "x", "type": "quantitative", "scale": {"domain": [0,60], "nice": false, "zero": false},
        "axis": {"values": [0,10,20,30,40,50,60], "title": "2Theta[deg]", "tickSize": 7, "tickWidth": 1.3, "labelFontSize": 23, "labelPadding": 7, "labelFlush": false, "labelOverlap": false, "titleFontSize": 26, "titleX": 265, "titleY": 65, "titleAlign": "center", "titleBaseline": "alphabetic"}},
  "y": {"field": "v", "type": "quantitative", "scale": {"domain": [0,450], "nice": false},
        "axis": {"title": "Intensity[cps]", "labels": false, "ticks": false, "domain": false, "grid": false, "titleFontSize": 26, "titlePadding": 33}},
  "detail": {"field": "s"}
 }},
{"data": {"name": "lab"}, "transform": [{"filter": "datum.p=='b' && datum.k=='n'"}],
 "mark": {"type": "text", "fontSize": 18, "align": "center", "baseline": "middle"},
 "encoding": {
  "x": {"field": "x", "type": "quantitative", "scale": {"domain": [0,60], "nice": false, "zero": false},
        "axis": {"orient": "bottom", "values": [5,15,25,35,45,55], "labels": false, "tickSize": 4, "tickWidth": 1.2, "title": ".", "titleColor": "#ffffff", "titleFontSize": 26, "titleY": 107, "titleBaseline": "alphabetic"}},
  "y": {"field": "y", "type": "quantitative", "scale": {"domain": [0,450], "nice": false}},
  "text": {"field": "t"}
 }},
{"data": {"name": "lab"}, "transform": [{"filter": "datum.p=='b' && datum.k=='g'"}],
 "mark": {"type": "text", "fontSize": 19, "align": "left", "baseline": "middle"},
 "encoding": {
  "x": {"field": "x", "type": "quantitative", "scale": {"domain": [0,60], "nice": false, "zero": false}, "axis": null},
  "y": {"field": "y", "type": "quantitative", "scale": {"domain": [0,450], "nice": false}},
  "text": {"field": "t"}
 }},
{"data": {"name": "lab"}, "transform": [{"filter": "datum.p=='b' && datum.k=='s'"}],
 "mark": {"type": "text", "fontSize": 22, "align": "right", "baseline": "middle"},
 "encoding": {
  "x": {"field": "x", "type": "quantitative", "scale": {"domain": [0,60], "nice": false, "zero": false}, "axis": null},
  "y": {"field": "y", "type": "quantitative", "scale": {"domain": [0,450], "nice": false}},
  "text": {"field": "t"}
 }},
{"data": {"name": "lab"}, "transform": [{"filter": "datum.p=='b' && datum.k=='l'"}],
 "mark": {"type": "text", "fontSize": 20, "fontWeight": "normal", "align": "center", "baseline": "middle"},
 "encoding": {
  "x": {"field": "x", "type": "quantitative", "scale": {"domain": [0,60], "nice": false, "zero": false}, "axis": null},
  "y": {"field": "y", "type": "quantitative", "scale": {"domain": [0,450], "nice": false}},
  "text": {"field": "t"}
 }}
]
},
{
"width": 556, "height": 457,
"resolve": {"axis": {"x": "independent"}},
"layer": [
{"data": {"name": "c"}, "transform": [{"fold": ["B","P","C"], "as": ["s","v"]}],
 "mark": {"type": "line", "clip": true, "color": "#111", "strokeWidth": 1.3, "strokeJoin": "bevel"},
 "encoding": {
  "x": {"field": "x", "type": "quantitative", "scale": {"domain": [0,60], "nice": false, "zero": false},
        "axis": {"values": [0,10,20,30,40,50,60], "title": "2Theta[deg]", "tickSize": 7, "tickWidth": 1.3, "labelFontSize": 23, "labelPadding": 7, "labelFlush": false, "labelOverlap": false, "titleFontSize": 26, "titleX": 232, "titleY": 69, "titleAlign": "center", "titleBaseline": "alphabetic"}},
  "y": {"field": "v", "type": "quantitative", "scale": {"domain": [0,457], "nice": false},
        "axis": {"title": "Intensity[cps]", "labels": false, "ticks": false, "domain": false, "grid": false, "titleFontSize": 26, "titlePadding": 34}},
  "detail": {"field": "s"}
 }},
{"data": {"name": "lab"}, "transform": [{"filter": "datum.p=='c' && datum.k=='n'"}],
 "mark": {"type": "text", "fontSize": 18, "align": "center", "baseline": "middle"},
 "encoding": {
  "x": {"field": "x", "type": "quantitative", "scale": {"domain": [0,60], "nice": false, "zero": false},
        "axis": {"orient": "bottom", "values": [5,15,25,35,45,55], "labels": false, "tickSize": 4, "tickWidth": 1.2, "title": null}},
  "y": {"field": "y", "type": "quantitative", "scale": {"domain": [0,457], "nice": false}},
  "text": {"field": "t"}
 }},
{"data": {"name": "lab"}, "transform": [{"filter": "datum.p=='c' && datum.k=='m'"}],
 "mark": {"type": "text", "fontSize": 15, "align": "center", "baseline": "middle"},
 "encoding": {
  "x": {"field": "x", "type": "quantitative", "scale": {"domain": [0,60], "nice": false, "zero": false}, "axis": null},
  "y": {"field": "y", "type": "quantitative", "scale": {"domain": [0,457], "nice": false}},
  "text": {"field": "t"}
 }},
{"data": {"name": "lab"}, "transform": [{"filter": "datum.p=='c' && datum.k=='g'"}],
 "mark": {"type": "text", "fontSize": 19, "align": "left", "baseline": "middle"},
 "encoding": {
  "x": {"field": "x", "type": "quantitative", "scale": {"domain": [0,60], "nice": false, "zero": false}, "axis": null},
  "y": {"field": "y", "type": "quantitative", "scale": {"domain": [0,457], "nice": false}},
  "text": {"field": "t"}
 }},
{"data": {"name": "lab"}, "transform": [{"filter": "datum.p=='c' && datum.k=='s'"}],
 "mark": {"type": "text", "fontSize": 22, "align": "right", "baseline": "middle"},
 "encoding": {
  "x": {"field": "x", "type": "quantitative", "scale": {"domain": [0,60], "nice": false, "zero": false}, "axis": null},
  "y": {"field": "y", "type": "quantitative", "scale": {"domain": [0,457], "nice": false}},
  "text": {"field": "t"}
 }},
{"data": {"name": "lab"}, "transform": [{"filter": "datum.p=='c' && datum.k=='l'"}],
 "mark": {"type": "text", "fontSize": 20, "fontWeight": "normal", "align": "center", "baseline": "middle"},
 "encoding": {
  "x": {"field": "x", "type": "quantitative", "scale": {"domain": [0,60], "nice": false, "zero": false}, "axis": null},
  "y": {"field": "y", "type": "quantitative", "scale": {"domain": [0,457], "nice": false}},
  "text": {"field": "t"}
 }}
]
}
],
"config": {
 "font": "Liberation Serif",
 "view": {"stroke": "#222", "strokeWidth": 1.5},
 "axis": {"grid": false, "domain": false, "labelFont": "Liberation Serif", "titleFont": "Liberation Serif", "labelFontWeight": "bold", "titleFontWeight": "bold", "labelColor": "#111", "titleColor": "#111", "tickColor": "#222"},
 "text": {"font": "Liberation Serif", "fontWeight": "bold", "color": "#111"}
}
}
